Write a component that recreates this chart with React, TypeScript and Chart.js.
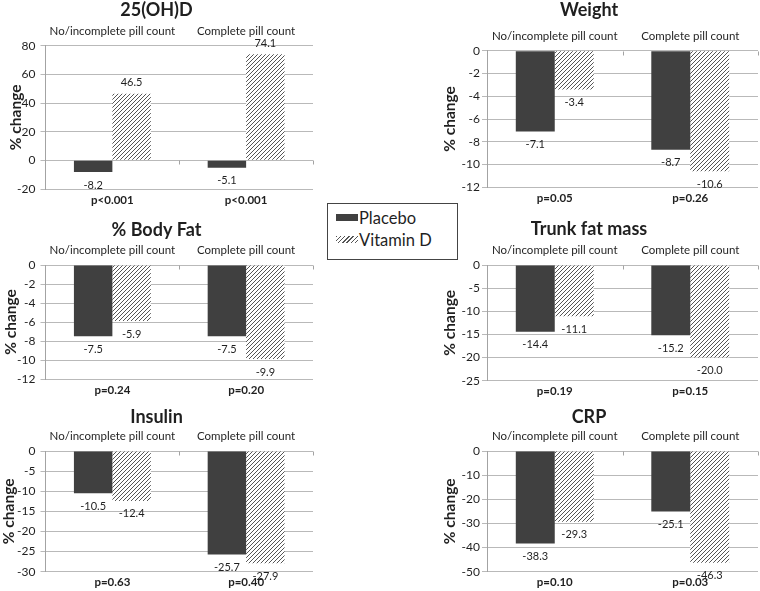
import React, { useEffect, useRef } from 'react';
import { Chart, registerables } from 'chart.js';

Chart.register(...registerables);

const FONT = 'Lato, "Liberation Sans", "DejaVu Sans", sans-serif';
const TEXT = '#1f1f1f';
const PLACEBO_COLOR = '#404040';
const GRID_COLOR = '#b9b9b9';
const AXIS_COLOR = '#a3a3a3';

// ---------- data ----------
const categories = ['No/incomplete pill count', 'Complete pill count'];
const seriesNames = ['Placebo', 'Vitamin D'];
const yAxisLabel = '% change';

const ohdTitle = '25(OH)D';
const ohdPlacebo = [-8.2, -5.1];
const ohdVitaminD = [46.5, 74.1];
const ohdPValues = ['p<0.001', 'p<0.001'];
const ohdYTicks = [-20, 0, 20, 40, 60, 80];

const weightTitle = 'Weight';
const weightPlacebo = [-7.1, -8.7];
const weightVitaminD = [-3.4, -10.6];
const weightPValues = ['p=0.05', 'p=0.26'];
const weightYTicks = [-12, -10, -8, -6, -4, -2, 0];

const bodyFatTitle = '% Body Fat';
const bodyFatPlacebo = [-7.5, -7.5];
const bodyFatVitaminD = [-5.9, -9.9];
const bodyFatPValues = ['p=0.24', 'p=0.20'];
const bodyFatYTicks = [-12, -10, -8, -6, -4, -2, 0];

const trunkTitle = 'Trunk fat mass';
const trunkPlacebo = [-14.4, -15.2];
const trunkVitaminD = [-11.1, -20.0];
const trunkPValues = ['p=0.19', 'p=0.15'];
const trunkYTicks = [-25, -20, -15, -10, -5, 0];

const insulinTitle = 'Insulin';
const insulinPlacebo = [-10.5, -25.7];
const insulinVitaminD = [-12.4, -27.9];
const insulinPValues = ['p=0.63', 'p=0.40'];
const insulinYTicks = [-30, -25, -20, -15, -10, -5, 0];

const crpTitle = 'CRP';
const crpPlacebo = [-38.3, -25.1];
const crpVitaminD = [-29.3, -46.3];
const crpPValues = ['p=0.10', 'p=0.03'];
const crpYTicks = [-50, -40, -30, -20, -10, 0];

// ---------- layout ----------
const LEFT_COL = { canvasLeft: 0, canvasWidth: 320, axisWidth: 45.5, padRight: 7, tickPad: 5 };
const RIGHT_COL = { canvasLeft: 420, canvasWidth: 418, axisWidth: 67, padRight: 80, tickPad: 2 };

const panels = [
  { title: ohdTitle, placebo: ohdPlacebo, vitaminD: ohdVitaminD, pValues: ohdPValues, yTicks: ohdYTicks,
    col: LEFT_COL, canvasTop: 0, titleY: 10.5, top: 45.7, bottom: 189, yTitleX: 16 },
  { title: weightTitle, placebo: weightPlacebo, vitaminD: weightVitaminD, pValues: weightPValues, yTicks: weightYTicks,
    col: RIGHT_COL, canvasTop: 0, titleY: 10.5, top: 50.7, bottom: 187.3, yTitleX: 450 },
  { title: bodyFatTitle, placebo: bodyFatPlacebo, vitaminD: bodyFatVitaminD, pValues: bodyFatPValues, yTicks: bodyFatYTicks,
    col: LEFT_COL, canvasTop: 212, titleY: 230, top: 265, bottom: 379, yTitleX: 11 },
  { title: trunkTitle, placebo: trunkPlacebo, vitaminD: trunkVitaminD, pValues: trunkPValues, yTicks: trunkYTicks,
    col: RIGHT_COL, canvasTop: 212, titleY: 229, top: 265, bottom: 380.7, yTitleX: 450 },
  { title: insulinTitle, placebo: insulinPlacebo, vitaminD: insulinVitaminD, pValues: insulinPValues, yTicks: insulinYTicks,
    col: LEFT_COL, canvasTop: 400, titleY: 417, top: 451, bottom: 571.7, yTitleX: 9 },
  { title: crpTitle, placebo: crpPlacebo, vitaminD: crpVitaminD, pValues: crpPValues, yTicks: crpYTicks,
    col: RIGHT_COL, canvasTop: 400, titleY: 417, top: 451, bottom: 571.7, yTitleX: 450 },
];

type PanelSpec = typeof panels[number];

function makeHatch(ctx: CanvasRenderingContext2D): CanvasPattern | string {
  const c = document.createElement('canvas');
  c.width = 4;
  c.height = 4;
  const g = c.getContext('2d');
  if (!g) return '#999';
  g.fillStyle = '#ffffff';
  g.fillRect(0, 0, 4, 4);
  g.strokeStyle = '#555555';
  g.lineWidth = 1;
  g.beginPath();
  g.moveTo(0, 4); g.lineTo(4, 0);
  g.moveTo(-1, 1); g.lineTo(1, -1);
  g.moveTo(3, 5); g.lineTo(5, 3);
  g.stroke();
  return ctx.createPattern(c, 'repeat') || '#999';
}

// value labels at the bar ends + small category tick marks on the zero line
const valueLabels = {
  id: 'valueLabels',
  afterDatasetsDraw(chart: any) {
    const ctx = chart.ctx;
    const xs = chart.scales.x;
    const ys = chart.scales.y;
    ctx.save();
    // category boundary ticks on the zero line
    const y0 = Math.round(ys.getPixelForValue(0)) + 0.5;
    ctx.strokeStyle = AXIS_COLOR;
    ctx.lineWidth = 1;
    ctx.beginPath();
    const n = chart.data.labels.length;
    for (let k = 1; k <= n; k++) {
      const px = Math.round(xs.getPixelForValue(k - 0.5)) + 0.5;
      ctx.moveTo(px, y0);
      ctx.lineTo(px, y0 + 4);
    }
    ctx.stroke();

    ctx.font = `11px ${FONT}`;
    ctx.fillStyle = TEXT;
    ctx.textAlign = 'center';
    ctx.textBaseline = 'middle';
    chart.data.datasets.forEach((ds: any, i: number) => {
      const meta = chart.getDatasetMeta(i);
      meta.data.forEach((bar: any, j: number) => {
        const v = ds.data[j] as number;
        const y = v >= 0 ? bar.y - 11 : bar.y + 13;
        ctx.fillText(v.toFixed(1), bar.x, y);
      });
    });
    ctx.restore();
  },
};

const TITLE_SIZE = 18;
const Y_TITLE_SIZE = 15.5;

function canvasHeight(spec: PanelSpec) {
  return Math.round(spec.bottom + 22 - spec.canvasTop);
}

function buildConfig(spec: PanelSpec, ctx: CanvasRenderingContext2D): any {
  const pt = Math.max(0, spec.titleY - TITLE_SIZE / 2 - spec.canvasTop);
  const xTopH = spec.top - (spec.canvasTop + pt + TITLE_SIZE);
  const h = canvasHeight(spec);
  const xBotH = spec.canvasTop + h - spec.bottom;
  const yMin = Math.min(...spec.yTicks);
  const yMax = Math.max(...spec.yTicks);
  const step = spec.yTicks[1] - spec.yTicks[0];
  const yTitlePad = spec.yTitleX - spec.col.canvasLeft - (Y_TITLE_SIZE * 1.2) / 2;
  const hatch = makeHatch(ctx);

  return {
    type: 'bar',
    data: {
      labels: categories,
      datasets: [
        { label: seriesNames[0], data: spec.placebo, backgroundColor: PLACEBO_COLOR, borderWidth: 0,
          categoryPercentage: 0.575, barPercentage: 1, xAxisID: 'x' },
        { label: seriesNames[1], data: spec.vitaminD, backgroundColor: hatch, borderWidth: 0,
          categoryPercentage: 0.575, barPercentage: 1, xAxisID: 'x' },
      ],
    },
    options: {
      animation: false,
      responsive: false,
      maintainAspectRatio: false,
      events: [],
      layout: { padding: { left: 0, right: spec.col.padRight, top: 0, bottom: 0 } },
      plugins: {
        legend: { display: false },
        tooltip: { enabled: false },
        title: {
          display: true,
          text: spec.title,
          color: TEXT,
          font: { family: FONT, size: TITLE_SIZE, weight: 'bold', lineHeight: 1 },
          padding: { top: pt, bottom: 0 },
        },
      },
      scales: {
        x: {
          type: 'category',
          position: 'top',
          offset: true,
          grid: { display: false, drawTicks: false },
          border: { display: false },
          ticks: { color: TEXT, font: { family: FONT, size: 11.5 }, padding: 8, maxRotation: 0, autoSkip: false },
          afterFit: (s: any) => { s.height = xTopH; },
        },
        x2: {
          type: 'category',
          position: 'bottom',
          labels: spec.pValues,
          offset: true,
          grid: { display: false, drawTicks: false },
          border: { display: false },
          ticks: { color: TEXT, font: { family: FONT, size: 11.5, weight: 'bold' }, padding: 4, maxRotation: 0, autoSkip: false },
          afterFit: (s: any) => { s.height = xBotH; },
        },
        y: {
          min: yMin,
          max: yMax,
          ticks: { stepSize: step, color: TEXT, font: { family: FONT, size: 12 }, padding: spec.col.tickPad },
          grid: { color: GRID_COLOR, tickLength: 5, lineWidth: 1 },
          border: { color: AXIS_COLOR },
          title: {
            display: true,
            text: yAxisLabel,
            color: TEXT,
            font: { family: FONT, size: Y_TITLE_SIZE, weight: 'bold' },
            padding: { top: yTitlePad, bottom: 0 },
          },
          afterFit: (s: any) => { s.width = spec.col.axisWidth; },
        },
      },
    },
    plugins: [valueLabels],
  };
}

function Panel({ spec }: { spec: PanelSpec }) {
  const ref = useRef<HTMLCanvasElement>(null);
  useEffect(() => {
    const canvas = ref.current;
    if (!canvas) return;
    const ctx = canvas.getContext('2d');
    if (!ctx) return;
    const chart = new Chart(canvas, buildConfig(spec, ctx));
    return () => chart.destroy();
  }, [spec]);
  const h = canvasHeight(spec);
  return (
    <canvas
      ref={ref}
      width={spec.col.canvasWidth}
      height={h}
      style={{ position: 'absolute', left: spec.col.canvasLeft, top: spec.canvasTop, width: spec.col.canvasWidth, height: h }}
    />
  );
}

function Legend() {
  const text: React.CSSProperties = {
    position: 'absolute', left: 31, fontFamily: FONT, fontSize: 16.5, color: TEXT, lineHeight: '20px', whiteSpace: 'nowrap',
  };
  return (
    <div style={{ position: 'absolute', left: 327, top: 203, width: 131, height: 57, border: '1px solid #444', background: '#fff', boxSizing: 'border-box' }}>
      <div style={{ position: 'absolute', left: 8, top: 10, width: 22, height: 7, background: PLACEBO_COLOR }} />
      <div style={{ ...text, top: 4 }}>{seriesNames[0]}</div>
      <div style={{ position: 'absolute', left: 8, top: 32, width: 22, height: 7, background: 'repeating-linear-gradient(135deg, #555 0px, #555 1px, #fff 1px, #fff 3px)' }} />
      <div style={{ ...text, top: 26 }}>{seriesNames[1]}</div>
    </div>
  );
}

export default function App() {
  return (
    <div style={{ position: 'fixed', left: 0, top: 0, width: 760, height: 591, background: '#fff', overflow: 'hidden' }}>
      {panels.map((p, i) => <Panel key={i} spec={p} />)}
      <Legend />
    </div>
  );
}
